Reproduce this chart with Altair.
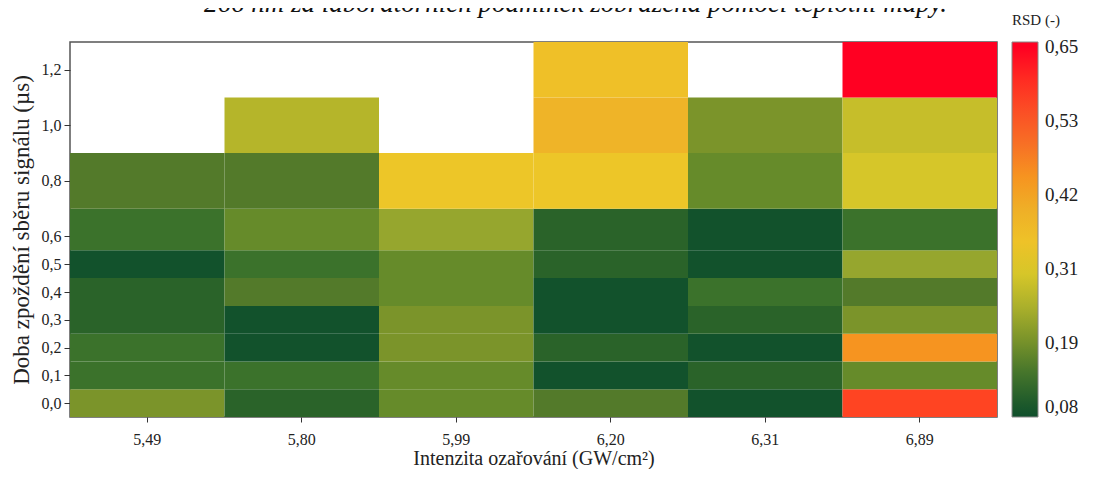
import altair as alt
import pandas as pd

# ---- data ----
caption = "266 nm za laboratorních podmínek zobrazená pomocí teplotní mapy."
x_labels = ["5,49", "5,80", "5,99", "6,20", "6,31", "6,89"]
y_values = [0.0, 0.1, 0.2, 0.3, 0.4, 0.5, 0.6, 0.8, 1.0, 1.2]

# RSD for each intensity, from delay 0.0 µs upward; None = not measured
rsd_549 = [0.20, 0.14, 0.14, 0.12, 0.12, 0.085, 0.14, 0.16, None, None]
rsd_580 = [0.12, 0.14, 0.085, 0.085, 0.16, 0.14, 0.18, 0.16, 0.26, None]
rsd_599 = [0.18, 0.18, 0.20, 0.20, 0.18, 0.18, 0.23, 0.33, None, None]
rsd_620 = [0.16, 0.085, 0.12, 0.085, 0.085, 0.12, 0.12, 0.33, 0.39, 0.36]
rsd_631 = [0.085, 0.12, 0.085, 0.12, 0.14, 0.085, 0.085, 0.18, 0.20, None]
rsd_689 = [0.57, 0.18, 0.45, 0.20, 0.16, 0.23, 0.14, 0.30, 0.28, 0.65]
columns = [rsd_549, rsd_580, rsd_599, rsd_620, rsd_631, rsd_689]

legend_values = [0.08, 0.194, 0.308, 0.422, 0.536, 0.65]
legend_labels = ["0,08", "0,19", "0,31", "0,42", "0,53", "0,65"]

# colour map (green -> yellow -> red)
color_stops = [0.08, 0.12, 0.14, 0.16, 0.18, 0.20, 0.23, 0.26, 0.28, 0.30,
               0.33, 0.36, 0.39, 0.42, 0.45, 0.53, 0.57, 0.65, 0.6575]
color_range = ["#0f4f2c", "#2a6329", "#3b722b", "#537a2a", "#668b2a", "#7b942a",
               "#96a62e", "#b5b52a", "#c6be2a", "#d6c629", "#edc628", "#efc028",
               "#efb428", "#f0a524", "#f69420", "#f75a28", "#ff4422", "#ff0022", "#ff0022"]

# ---- build table: each delay row spans half-way to its neighbours ----
edges = []
for i, yv in enumerate(y_values):
    lo = (y_values[i - 1] + yv) / 2 if i > 0 else yv - (y_values[1] - y_values[0]) / 2
    hi = (y_values[i + 1] + yv) / 2 if i < len(y_values) - 1 else yv + (y_values[-1] - y_values[-2]) / 2
    edges.append((lo, hi))

records = []
for xl, col in zip(x_labels, columns):
    for (lo, hi), yv, v in zip(edges, y_values, col):
        if v is None:
            continue
        records.append({"intenzita": xl, "doba": yv, "y_lo": lo, "y_hi": hi, "rsd": v})
df = pd.DataFrame(records)

y_dom = [edges[0][0], edges[-1][1]]

label_js = "[" + ",".join("'%s'" % s for s in legend_labels) + "]"
legend_expr = "%s[round((datum.value - %g) / %g)]" % (
    label_js, legend_values[0], (legend_values[-1] - legend_values[0]) / (len(legend_values) - 1))

FONT = "Liberation Serif"

chart = alt.Chart(df).mark_rect().encode(
    x=alt.X("intenzita:N", sort=x_labels,
            scale=alt.Scale(paddingInner=0, paddingOuter=0),
            axis=alt.Axis(title="Intenzita ozařování (GW/cm²)", labelAngle=0,
                          labelFontSize=16, titleFontSize=20, tickSize=5,
                          labelPadding=9, titlePadding=1, domain=False)),
    y=alt.Y("y_lo:Q", scale=alt.Scale(domain=y_dom, nice=False, zero=False),
            axis=alt.Axis(title="Doba zpoždění sběru signálu (µs)", values=y_values,
                          labelExpr="replace(format(datum.value, '.1f'), '.', ',')",
                          labelFontSize=16, titleFontSize=23, tickSize=6,
                          labelPadding=3, titlePadding=8, domain=False, grid=False)),
    y2="y_hi:Q",
    color=alt.Color("rsd:Q",
                    scale=alt.Scale(domain=color_stops, range=color_range, interpolate="rgb"),
                    legend=alt.Legend(type="gradient", title="RSD (-)", orient="none",
                                      legendX=942, legendY=-29,
                                      gradientLength=375, gradientThickness=26,
                                      gradientStrokeColor="#888", gradientStrokeWidth=1,
                                      values=legend_values, labelExpr=legend_expr,
                                      labelFontSize=19, titleFontSize=15, titleFontWeight="normal",
                                      labelBaseline="middle",
                                      labelOffset=7, titlePadding=14, direction="vertical")),
    tooltip=["intenzita:N", "doba:Q", "rsd:Q"],
).properties(
    width=927, height=375,
    padding={"left": 62, "top": 34, "right": 89, "bottom": 52},
    autosize=alt.AutoSizeParams(type="none"),
    title=alt.TitleParams(text=caption, font=FONT, fontSize=27, fontStyle="italic",
                          fontWeight="normal", color="#111", anchor="middle",
                          frame="group", dx=42, dy=30, offset=4, baseline="alphabetic"),
).configure(font=FONT).configure_view(
    stroke="#555", strokeWidth=1.5
).configure_axis(
    labelFont=FONT, titleFont=FONT, labelColor="#222", titleColor="#222",
    tickColor="#333", titleFontWeight="normal"
).configure_legend(
    labelFont=FONT, titleFont=FONT, labelColor="#222", titleColor="#222"
)

chart.save("out.html", embed_options={"renderer": "svg", "actions": False})
